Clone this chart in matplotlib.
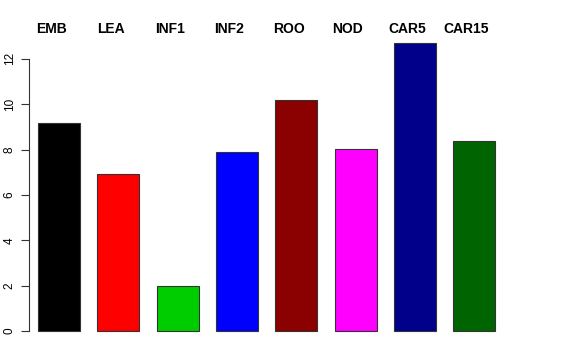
from matplotlib import pyplot as plt
from matplotlib import transforms
import numpy as np

names = ["EMB", "LEA", "INF1", "INF2", "ROO", "NOD", "CAR5", "CAR15"]
values = [9.18, 6.93, 2.0, 7.9, 10.19, 8.03, 12.7, 8.38]
colors = ["black", "red", "#00CD00", "blue", "#8B0000", "magenta", "#00008B", "#006400"]
yticks = [0, 2, 4, 6, 8, 10, 12]

plt.rcParams['font.family'] = ['Liberation Sans', 'DejaVu Sans']

fig = plt.figure(figsize=(5.76, 3.6), dpi=100)
# axes placed in pixels to mimic the R barplot layout
ax = fig.add_axes([29/576, 29/360, (503-29)/576, (331-43)/360])

x = np.arange(len(names))
ax.bar(x, values, width=42/59.3, color=colors, edgecolor="#333333", linewidth=0.8, clip_on=False)
ax.set_xlim(-0.506, 7.487)
ax.set_ylim(0, 12.7)

trans = transforms.blended_transform_factory(ax.transData, fig.transFigure)
for i, n in enumerate(names):
    ax.text(i - 0.13, 1 - 29/360, n, transform=trans,
            ha="center", va="center", fontsize=10, fontweight="bold")

for s in ["top", "right", "bottom"]:
    ax.spines[s].set_visible(False)
ax.spines["left"].set_bounds(0, 12)
ax.spines["left"].set_linewidth(0.8)
ax.spines["left"].set_color("#333333")
ax.set_xticks([])
ax.set_yticks(yticks)
ax.set_yticklabels([str(t) for t in yticks], rotation=90, va="center", fontsize=8.5)
ax.tick_params(axis="y", length=6, width=0.8, color="#333333", pad=3.5)

plt.savefig("out.png", dpi=100)
